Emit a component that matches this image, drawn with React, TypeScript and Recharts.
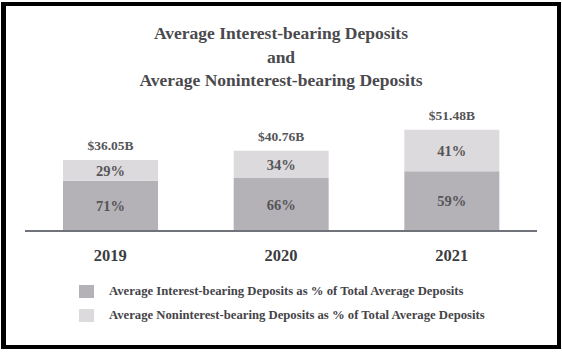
import { BarChart, Bar, XAxis, YAxis, LabelList } from "recharts";

const YEARS = ["2019", "2020", "2021"];
const TOTALS = [36.05, 40.76, 51.48];
const TOTAL_LABELS = ["$36.05B", "$40.76B", "$51.48B"];
const INTEREST_PCT = [71, 66, 59];
const NONINTEREST_PCT = [29, 34, 41];

const DARK = "#b4b1b7";
const LIGHT = "#dddadd";
const TEXT = "#444448";
const FONT = "'Liberation Serif', 'Times New Roman', serif";

const data = YEARS.map((year, i) => ({
  year,
  interest: (TOTALS[i] * INTEREST_PCT[i]) / 100,
  noninterest: (TOTALS[i] * NONINTEREST_PCT[i]) / 100,
  interestLabel: `${INTEREST_PCT[i]}%`,
  noninterestLabel: `${NONINTEREST_PCT[i]}%`,
  totalLabel: TOTAL_LABELS[i],
}));

const LEGEND_ITEMS = [
  { color: DARK, label: "Average Interest-bearing Deposits as % of Total Average Deposits" },
  { color: LIGHT, label: "Average Noninterest-bearing Deposits as % of Total Average Deposits" },
];

function ChartLegend() {
  return (
    <div
      style={{
        position: "absolute",
        left: 79,
        top: 279,
        fontFamily: FONT,
        fontWeight: "bold",
        fontSize: 12.7,
        color: TEXT,
      }}
    >
      {LEGEND_ITEMS.map((it) => (
        <div key={it.label} style={{ display: "flex", alignItems: "center", height: 24 }}>
          <span style={{ width: 15, height: 13, background: it.color, display: "inline-block", marginRight: 15 }} />
          <span>{it.label}</span>
        </div>
      ))}
    </div>
  );
}

export default function App() {
  return (
    <div style={{ position: "fixed", left: 0, top: 0, width: 562, height: 352, background: "#fff" }}>
      <div
        style={{
          position: "absolute",
          left: 1,
          top: 2,
          width: 560,
          height: 347,
          boxSizing: "border-box",
          border: "4px solid #000",
          borderLeftWidth: 5,
        }}
      />
      <div
        style={{
          position: "absolute",
          left: 0,
          top: 22,
          width: 562,
          textAlign: "center",
          fontFamily: FONT,
          fontWeight: "bold",
          fontSize: 17.5,
          lineHeight: "23.5px",
          color: "#4a4a4e",
        }}
      >
        <div>Average Interest-bearing Deposits</div>
        <div>and</div>
        <div>Average Noninterest-bearing Deposits</div>
      </div>
      <div style={{ position: "absolute", left: 0, top: 0 }}>
        <BarChart
          width={562}
          height={352}
          data={data}
          margin={{ top: 113, right: 25, left: 25, bottom: 91 }}
          barCategoryGap={38}
        >
          <XAxis
            dataKey="year"
            axisLine={{ stroke: "#70747a", strokeWidth: 2 }}
            tickLine={false}
            height={30}
            tick={{ fontFamily: FONT, fontWeight: "bold", fontSize: 16.5, fill: "#3c3c40" }}
            dy={10}
          />
          <YAxis hide domain={[0, 60]} />
          <Bar dataKey="interest" stackId="a" fill={DARK} isAnimationActive={false}>
            <LabelList
              dataKey="interestLabel"
              position="center"
              style={{ fontFamily: FONT, fontWeight: "bold", fontSize: 14.5, fill: "#555558" }}
            />
          </Bar>
          <Bar dataKey="noninterest" stackId="a" fill={LIGHT} isAnimationActive={false}>
            <LabelList
              dataKey="noninterestLabel"
              position="center"
              style={{ fontFamily: FONT, fontWeight: "bold", fontSize: 14.5, fill: "#555558" }}
            />
            <LabelList
              dataKey="totalLabel"
              position="top"
              offset={10}
              style={{ fontFamily: FONT, fontWeight: "bold", fontSize: 13.5, fill: "#555558" }}
            />
          </Bar>
        </BarChart>
      </div>
      <ChartLegend />
    </div>
  );
}
